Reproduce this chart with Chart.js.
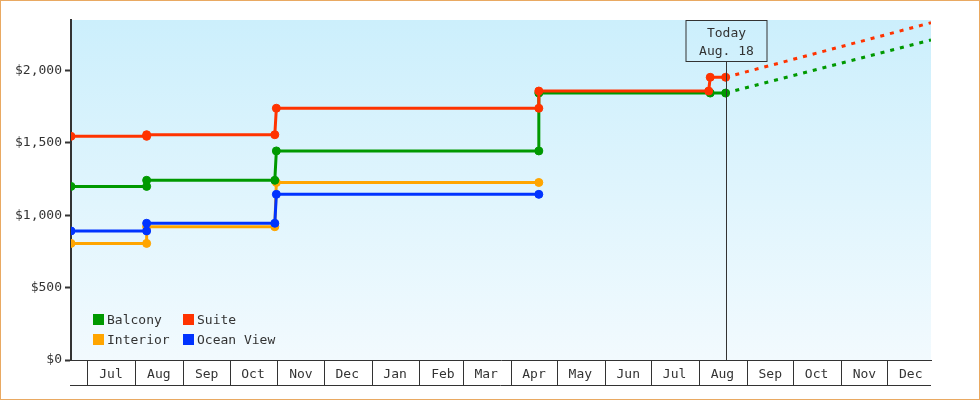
<!DOCTYPE html>
<html lang="en">
<head>
  <meta charset="UTF-8">
  <title>Cabin price history</title>
  <script src="https://cdn.jsdelivr.net/npm/chart.js"></script>
  <style>
    body { margin: 0; background: #fff; }
    #wrap { position: relative; width: 978px; height: 398px; border: 1px solid #e9a962; }
    #legend { position: absolute; left: 92px; top: 311px; display: grid; grid-template-columns: 90px 110px;
              row-gap: 5px; font: 13px "DejaVu Sans Mono", monospace; color: #333; }
    #legend span.box { display: inline-block; width: 11px; height: 11px; margin-right: 3px; vertical-align: -1px; }
  </style>
</head>
<body>
  <div id="wrap">
    <canvas id="priceChart" width="978" height="398"></canvas>
    <div id="legend"></div>
  </div>

  <script>
    // axis range and month ticks
    const xStart = '2016-06-20';
    const xEnd = '2017-12-29';
    const today = '2017-08-18';
    const todayLabel = ['Today', 'Aug. 18'];
    const monthStarts = ['2016-07-01', '2016-08-01', '2016-09-01', '2016-10-01', '2016-11-01', '2016-12-01',
                         '2017-01-01', '2017-02-01', '2017-03-01', '2017-04-01', '2017-05-01', '2017-06-01',
                         '2017-07-01', '2017-08-01', '2017-09-01', '2017-10-01', '2017-11-01', '2017-12-01'];
    const monthLabels = ['Jul', 'Aug', 'Sep', 'Oct', 'Nov', 'Dec', 'Jan', 'Feb', 'Mar', 'Apr', 'May', 'Jun',
                         'Jul', 'Aug', 'Sep', 'Oct', 'Nov', 'Dec'];
    const yTicks = [0, 500, 1000, 1500, 2000];
    const yMax = 2350;

    // price history
    const balconyDates = ['2016-06-20', '2016-08-08', '2016-08-08', '2016-10-30', '2016-10-31',
                          '2017-04-19', '2017-04-19', '2017-08-08', '2017-08-18'];
    const balconyPrices = [1200, 1200, 1242, 1242, 1445, 1445, 1845, 1845, 1845];

    const suiteDates = ['2016-06-20', '2016-08-08', '2016-08-08', '2016-10-30', '2016-10-31',
                        '2017-04-19', '2017-04-19', '2017-08-07', '2017-08-08', '2017-08-18'];
    const suitePrices = [1546, 1546, 1557, 1557, 1740, 1740, 1859, 1859, 1954, 1954];

    const interiorDates = ['2016-06-20', '2016-08-08', '2016-08-08', '2016-10-30', '2016-10-31', '2017-04-19'];
    const interiorPrices = [806, 806, 921, 921, 1227, 1227];

    const oceanDates = ['2016-06-20', '2016-08-08', '2016-08-08', '2016-10-30', '2016-10-31', '2017-04-19'];
    const oceanPrices = [892, 892, 945, 945, 1145, 1145];

    // projections
    const balconyForecastDates = ['2017-08-18', '2017-12-29'];
    const balconyForecast = [1845, 2212];
    const suiteForecastDates = ['2017-08-18', '2017-12-29'];
    const suiteForecast = [1954, 2331];

    const FONT = '"DejaVu Sans Mono", monospace';
    const INK = '#333';

    function pts(dates, values) {
      return dates.map((d, i) => ({ x: Date.parse(d), y: values[i] }));
    }

    function stepSet(label, color, dates, values, order) {
      return {
        label: label, data: pts(dates, values), order: order,
        borderColor: color, backgroundColor: color, borderWidth: 3,
        pointRadius: 4, pointBorderWidth: 1, pointBackgroundColor: color, pointBorderColor: color,
        fill: false, tension: 0
      };
    }

    function forecastSet(color, dates, values, order) {
      return {
        label: '', data: pts(dates, values), order: order,
        borderColor: color, borderWidth: 3, borderDash: [4, 6], pointRadius: 0, fill: false
      };
    }

    const datasets = [
      stepSet('Balcony', '#009900', balconyDates, balconyPrices, 1),
      stepSet('Suite', '#ff3300', suiteDates, suitePrices, 0),
      stepSet('Interior', '#ffa500', interiorDates, interiorPrices, 3),
      stepSet('Ocean View', '#0033ff', oceanDates, oceanPrices, 2),
      forecastSet('#009900', balconyForecastDates, balconyForecast, 1),
      forecastSet('#ff3300', suiteForecastDates, suiteForecast, 0)
    ];

    // background gradient in the plot area + bottom rule
    const backdrop = {
      id: 'backdrop',
      beforeDraw(chart) {
        const { ctx, chartArea: a } = chart;
        const g = ctx.createLinearGradient(0, a.top, 0, a.bottom);
        g.addColorStop(0, '#cceffc');
        g.addColorStop(1, '#f2fafe');
        ctx.save();
        ctx.fillStyle = g;
        ctx.fillRect(a.left, a.top, a.right - a.left, a.bottom - a.top);
        ctx.restore();
      },
      afterDraw(chart) {
        const { ctx, chartArea: a } = chart;
        const y = Math.round(chart.scales.x.bottom) - 0.5;
        ctx.save();
        ctx.strokeStyle = INK;
        ctx.lineWidth = 1;
        ctx.beginPath();
        ctx.moveTo(a.left - 1, y);
        ctx.lineTo(a.right, y);
        ctx.stroke();
        ctx.restore();
      }
    };

    // "Today" marker
    const todayMarker = {
      id: 'todayMarker',
      afterDatasetsDraw(chart) {
        const { ctx, chartArea: a } = chart;
        const x = Math.round(chart.scales.x.getPixelForValue(Date.parse(today))) + 0.5;
        const w = 81, h = 41;
        const top = a.top + 0.5;
        ctx.save();
        ctx.strokeStyle = INK;
        ctx.lineWidth = 1;
        ctx.beginPath();
        ctx.moveTo(x, top + h);
        ctx.lineTo(x, a.bottom);
        ctx.stroke();
        ctx.strokeRect(Math.round(x - w / 2), top, w, h);
        ctx.fillStyle = INK;
        ctx.font = '13px ' + FONT;
        ctx.textAlign = 'center';
        ctx.textBaseline = 'middle';
        ctx.fillText(todayLabel[0], x, top + 13);
        ctx.fillText(todayLabel[1], x, top + 31);
        ctx.restore();
      }
    };

    const ctx = document.getElementById('priceChart').getContext('2d');
    const chart = new Chart(ctx, {
      type: 'line',
      data: { datasets: datasets },
      plugins: [backdrop, todayMarker],
      options: {
        responsive: false,
        animation: false,
        layout: { padding: { left: 0, right: 48, top: 19, bottom: 13 } },
        plugins: { legend: { display: false }, tooltip: { enabled: false } },
        scales: {
          x: {
            type: 'linear',
            min: Date.parse(xStart),
            max: Date.parse(xEnd),
            afterBuildTicks: s => { s.ticks = monthStarts.map(d => ({ value: Date.parse(d) })); },
            afterFit: s => { s.height = 26; },
            border: { display: true, color: INK, width: 1 },
            grid: { drawOnChartArea: false, drawTicks: true, tickLength: 26, tickColor: INK, tickWidth: 1 },
            ticks: {
              autoSkip: false, maxRotation: 0, padding: -19, labelOffset: 23,
              color: INK, font: { family: FONT, size: 13 },
              callback: (v, i) => monthLabels[i]
            }
          },
          y: {
            min: 0,
            max: yMax,
            afterBuildTicks: s => { s.ticks = yTicks.map(v => ({ value: v })); },
            afterFit: s => { s.width = 70; },
            border: { display: true, color: INK, width: 2 },
            grid: { drawOnChartArea: false, drawTicks: true, tickLength: 6, tickColor: INK, tickWidth: 2 },
            ticks: {
              padding: 3, color: INK, font: { family: FONT, size: 13 },
              callback: v => '$' + v.toLocaleString('en-US')
            }
          }
        }
      }
    });

    // legend in the lower left of the plot, two columns
    const legend = document.getElementById('legend');
    datasets.filter(d => d.label).forEach(d => {
      const item = document.createElement('div');
      item.innerHTML = '<span class="box" style="background:' + d.borderColor + '"></span>' + d.label;
      legend.appendChild(item);
    });
  </script>
</body>
</html>
